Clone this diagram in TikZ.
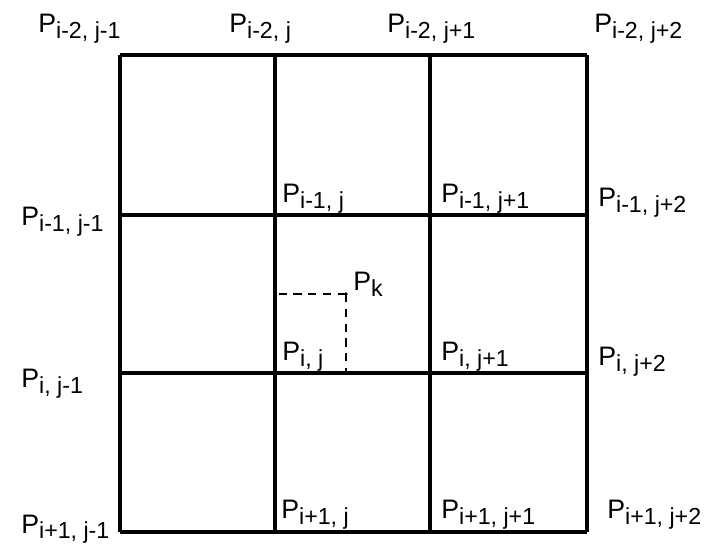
\documentclass[tikz,border=0pt]{standalone}
\usepackage{fontspec}
\setmainfont{Liberation Sans}
\usetikzlibrary{positioning}

% lowered, fairly large subscript as in the drawing
\newcommand{\lowsub}[1]{\raisebox{-4pt}{\fontsize{16.5}{17}\selectfont #1}}

\begin{document}
\begin{tikzpicture}[
    x=0.025cm, y=-0.025cm,
    gridline/.style={line width=2.2pt},
    guide/.style={line width=1pt, dash pattern=on 6pt off 4.5pt},
    plabel/.style={anchor=base west, inner sep=0pt, font=\fontsize{19}{22}\selectfont}
]
    \useasboundingbox (0,0) rectangle (718,544);

    % grid corners
    \foreach \r/\y in {0/55, 1/215, 2/373, 3/532} {
        \foreach \c/\x in {0/120, 1/275, 2/430, 3/587} {
            \coordinate (g\r\c) at (\x,\y);
        }
    }
    \foreach \r in {0,...,3} \draw[gridline] (g\r0) -- (g\r3);
    \foreach \c in {0,...,3} \draw[gridline] (g0\c) -- (g3\c);

    % top row
    \node[plabel] (p00) at (38,33)  {P\lowsub{i-2, j-1}};
    \node[plabel] (p01) at (229,33) {P\lowsub{i-2, j}};
    \node[plabel] (p02) at (387,33) {P\lowsub{i-2, j+1}};
    \node[plabel] (p03) at (594,33) {P\lowsub{i-2, j+2}};

    % second row
    \node[plabel] (p10) at (21,226)  {P\lowsub{i-1, j-1}};
    \node[plabel] (p11) at (282,203) {P\lowsub{i-1, j}};
    \node[plabel] (p12) at (441,203) {P\lowsub{i-1, j+1}};
    \node[plabel] (p13) at (598,207) {P\lowsub{i-1, j+2}};

    % third row
    \node[plabel] (p20) at (21,388)  {P\lowsub{i, j-1}};
    \node[plabel] (p21) at (282,361) {P\lowsub{i, j}};
    \node[plabel] (p22) at (441,361) {P\lowsub{i, j+1}};
    \node[plabel] (p23) at (598,366) {P\lowsub{i, j+2}};

    % bottom row
    \node[plabel] (p30) at (21,533)  {P\lowsub{i+1, j-1}};
    \node[plabel] (p31) at (281,519) {P\lowsub{i+1, j}};
    \node[plabel] (p32) at (441,519) {P\lowsub{i+1, j+1}};
    \node[plabel] (p33) at (607,519) {P\lowsub{i+1, j+2}};

    % interpolated point
    \coordinate (pk) at (346,294);
    \coordinate (pkx) at (g11 |- pk);
    \coordinate (pky) at (pk |- g21);
    \fill (pk) circle (1.3pt);
    \node[plabel] (pklabel) at (353,291) {P\lowsub{k}};
    \draw[guide] (pk) -- (pkx);
    \draw[guide] (pk) -- (pky);
\end{tikzpicture}
\end{document}
